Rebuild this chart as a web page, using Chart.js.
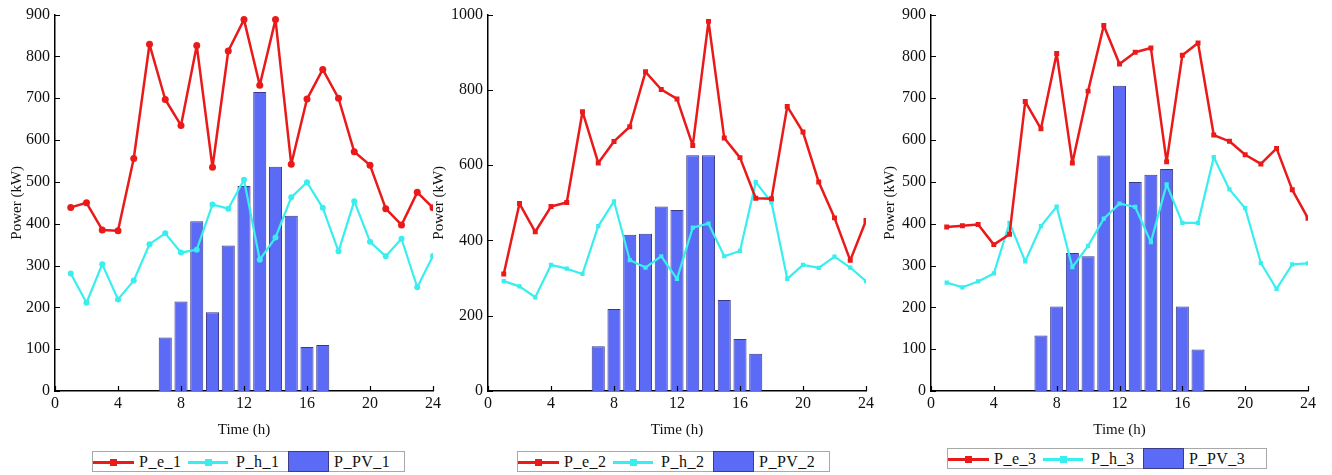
<!DOCTYPE html>
<html>
<head>
<meta charset="utf-8">
<script src="https://cdn.jsdelivr.net/npm/chart.js@4.4.1/dist/chart.umd.min.js"></script>
<style>
  body { margin: 0; background: #fff; width: 1332px; height: 475px; position: relative; overflow: hidden; }
  canvas { position: absolute; top: 0; }
  .legend {
    position: absolute; height: 21px; border: 1px solid #a8a8a8; background: #fff;
    font-family: "Liberation Serif", "Times New Roman", serif; font-size: 16px; color: #111;
    box-sizing: border-box;
  }
  .legend > * { position: absolute; top: 0; }
  .legend .txt { line-height: 20px; letter-spacing: 0.5px; }
  .legend .ln { height: 2.5px; top: 9px; }
  .legend .mk { position: absolute; width: 7px; height: 7px; top: -2px; }
  .legend .sw { top: -1px; height: 21px; border: 1px solid #3c3c8c; box-sizing: border-box; }
</style>
</head>
<body>
<canvas id="c1" width="446" height="440" style="left:0px"></canvas>
<canvas id="c2" width="449" height="440" style="left:430px"></canvas>
<canvas id="c3" width="446" height="440" style="left:875px"></canvas>
<div class="legend" id="lg1" style="left:92px; top:451px; width:313px"></div>
<div class="legend" id="lg2" style="left:517px; top:451px; width:313px"></div>
<div class="legend" id="lg3" style="left:947px; top:448px; width:320px"></div>
<script>
'use strict';

// hours of the day
const hours = [1, 2, 3, 4, 5, 6, 7, 8, 9, 10, 11, 12, 13, 14, 15, 16, 17, 18, 19, 20, 21, 22, 23, 24];
// hours with PV output
const pvHours = [7, 8, 9, 10, 11, 12, 13, 14, 15, 16, 17];
const xTicks = [0, 4, 8, 12, 16, 20, 24];

// microgrid 1
const pE1 = [439, 450, 385, 383, 556, 829, 697, 635, 826, 535, 813, 888, 731, 888, 542, 698, 769, 700, 572, 540, 436, 397, 475, 438];
const pH1 = [281, 211, 303, 219, 264, 351, 377, 331, 338, 446, 436, 505, 314, 367, 463, 499, 438, 334, 454, 357, 322, 364, 248, 323];
const pPV1 = [128, 214, 406, 188, 348, 490, 715, 536, 419, 105, 110];

// microgrid 2
const pE2 = [311, 498, 423, 490, 501, 742, 606, 663, 702, 848, 801, 776, 652, 982, 672, 620, 512, 511, 756, 688, 555, 460, 347, 453];
const pH2 = [292, 278, 249, 335, 325, 311, 438, 504, 348, 328, 358, 298, 434, 445, 358, 372, 555, 501, 298, 335, 327, 357, 328, 292];
const pPV2 = [119, 218, 415, 418, 490, 481, 626, 626, 242, 138, 99];

// microgrid 3
const pE3 = [392, 395, 398, 350, 375, 692, 627, 807, 545, 717, 874, 782, 810, 820, 548, 803, 832, 612, 597, 565, 543, 580, 481, 413];
const pH3 = [259, 248, 262, 281, 402, 310, 394, 441, 296, 347, 412, 448, 440, 356, 494, 402, 402, 559, 482, 437, 306, 244, 303, 305];
const pPV3 = [133, 202, 330, 322, 563, 730, 500, 517, 531, 202, 99];

const labels1 = ['P_e_1', 'P_h_1', 'P_PV_1'];
const labels2 = ['P_e_2', 'P_h_2', 'P_PV_2'];
const labels3 = ['P_e_3', 'P_h_3', 'P_PV_3'];

const RED = '#ea1a1a';
const CYAN = '#38eeee';
const BLUE = '#5b6bf6';
const BAR_EDGE = '#3a3a8a';
const FONT = { family: '"Liberation Serif", "Times New Roman", serif', size: 16 };
const TITLE_FONT = { family: '"Liberation Serif", "Times New Roman", serif', size: 15 };

// short tick marks pointing into the plot area
const inwardTicks = {
  id: 'inwardTicks',
  afterDraw(chart) {
    const { ctx } = chart;
    const xs = chart.scales.x;
    const ys = chart.scales.y;
    ctx.save();
    ctx.strokeStyle = '#000';
    ctx.lineWidth = 1.2;
    ctx.beginPath();
    for (const t of xs.ticks) {
      const px = Math.round(xs.getPixelForValue(t.value)) + 0.5;
      ctx.moveTo(px, ys.bottom);
      ctx.lineTo(px, ys.bottom - 5);
    }
    for (const t of ys.ticks) {
      const py = Math.round(ys.getPixelForValue(t.value)) + 0.5;
      ctx.moveTo(xs.left, py);
      ctx.lineTo(xs.left + 5, py);
    }
    ctx.stroke();
    ctx.restore();
  }
};

function toXY(xs, ys) {
  return xs.map((x, i) => ({ x: x, y: ys[i] }));
}

function makePanel(id, eData, hData, pvData, names, yMax, yStep, marker, yWidth, titlePad) {
  const ctx = document.getElementById(id);
  return new Chart(ctx, {
    type: 'bar',
    plugins: [inwardTicks],
    data: {
      datasets: [{
        type: 'line',
        label: names[0],
        data: toXY(hours, eData),
        borderColor: RED,
        backgroundColor: RED,
        borderWidth: 2.5,
        borderJoinStyle: 'round',
        pointStyle: marker,
        pointRadius: 3.5,
        pointBorderWidth: 0,
        tension: 0,
        order: 1,
      }, {
        type: 'line',
        label: names[1],
        data: toXY(hours, hData),
        borderColor: CYAN,
        backgroundColor: CYAN,
        borderWidth: 2.2,
        borderJoinStyle: 'round',
        pointStyle: marker,
        pointRadius: 3,
        pointBorderWidth: 0,
        tension: 0,
        order: 2,
      }, {
        type: 'bar',
        label: names[2],
        data: toXY(pvHours, pvData),
        backgroundColor: BLUE,
        borderColor: BAR_EDGE,
        borderWidth: 1,
        barPercentage: 1,
        categoryPercentage: 0.83,
        order: 3,
      }]
    },
    options: {
      responsive: false,
      animation: false,
      layout: {
        padding: { top: 12, right: 13, left: 0, bottom: 0 }
      },
      plugins: {
        legend: { display: false },
        tooltip: { enabled: false },
      },
      scales: {
        x: {
          type: 'linear',
          min: 0,
          max: 24,
          offset: false,
          afterBuildTicks: (scale) => { scale.ticks = xTicks.map(v => ({ value: v })); },
          afterFit: (scale) => { scale.height = 49; },
          title: { display: true, text: 'Time (h)', color: '#111', font: TITLE_FONT, padding: { top: 2, bottom: 1 } },
          ticks: { color: '#111', font: FONT, padding: 3, maxRotation: 0 },
          grid: { display: false, drawTicks: false },
          border: { color: '#000', width: 1.5 },
        },
        y: {
          min: 0,
          max: yMax,
          afterFit: (scale) => { scale.width = yWidth; },
          title: { display: true, text: 'Power (kW)', color: '#111', font: TITLE_FONT, padding: { top: titlePad, bottom: 0 } },
          ticks: { color: '#111', font: FONT, stepSize: yStep, padding: 5, callback: (v) => String(v) },
          grid: { display: false, drawTicks: false },
          border: { color: '#000', width: 1.5 },
        }
      }
    }
  });
}

function buildLegend(id, names) {
  const el = document.getElementById(id);
  const parts = [
    { kind: 'line', color: RED, left: 0, width: 41 },
    { kind: 'text', text: names[0], left: 46 },
    { kind: 'line', color: CYAN, left: 95, width: 40 },
    { kind: 'text', text: names[1], left: 143 },
    { kind: 'swatch', left: 195, width: 41 },
    { kind: 'text', text: names[2], left: 241 },
  ];
  for (const p of parts) {
    const span = document.createElement('span');
    span.style.left = p.left + 'px';
    if (p.kind === 'line') {
      span.className = 'ln';
      span.style.width = p.width + 'px';
      span.style.background = p.color;
      const mk = document.createElement('span');
      mk.className = 'mk';
      mk.style.left = (p.width / 2 - 3.5) + 'px';
      mk.style.background = p.color;
      span.appendChild(mk);
    } else if (p.kind === 'swatch') {
      span.className = 'sw';
      span.style.width = p.width + 'px';
      span.style.background = BLUE;
    } else {
      span.className = 'txt';
      span.textContent = p.text;
    }
    el.appendChild(span);
  }
}

makePanel('c1', pE1, pH1, pPV1, labels1, 900, 100, 'circle', 55, 8);
makePanel('c2', pE2, pH2, pPV2, labels2, 1000, 200, 'rect', 58, 0);
makePanel('c3', pE3, pH3, pPV3, labels3, 900, 100, 'rect', 56, 6);

buildLegend('lg1', labels1);
buildLegend('lg2', labels2);
buildLegend('lg3', labels3);
</script>
</body>
</html>
